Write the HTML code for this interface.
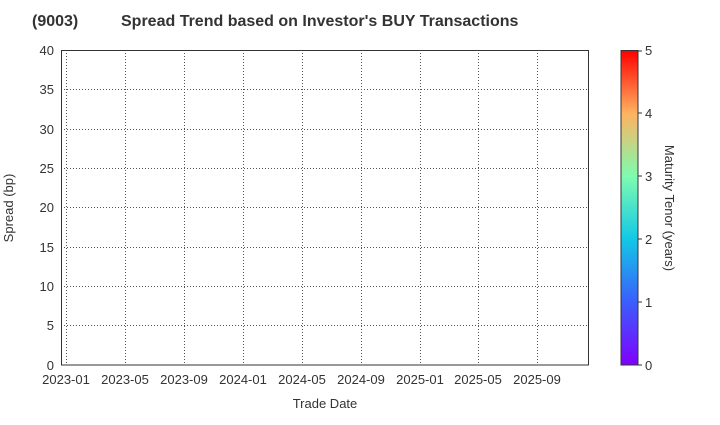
<!DOCTYPE html><html><head><style>body{margin:0;background:#fff}</style></head><body>
<svg width="720" height="420" xmlns="http://www.w3.org/2000/svg" font-family="Liberation Sans, sans-serif">
<defs><linearGradient id="g" x1="0" y1="1" x2="0" y2="0">
<stop offset="0" stop-color="#8000ff"/><stop offset="0.2" stop-color="#3a5efc"/><stop offset="0.4" stop-color="#12c8e6"/><stop offset="0.6" stop-color="#7efcb0"/><stop offset="0.8" stop-color="#ffb360"/><stop offset="1" stop-color="#ff0000"/></linearGradient></defs>
<text x="32" y="26" font-size="16" font-weight="bold" fill="#333">(9003)</text>
<text x="121" y="26" font-size="16" font-weight="bold" fill="#333">Spread Trend based on Investor's BUY Transactions</text>
<g stroke="#555" stroke-dasharray="1,2" stroke-width="1">
<line x1="61" x2="589" y1="325.5" y2="325.5"/><line x1="61" x2="589" y1="286.5" y2="286.5"/><line x1="61" x2="589" y1="247.5" y2="247.5"/><line x1="61" x2="589" y1="207.5" y2="207.5"/><line x1="61" x2="589" y1="168.5" y2="168.5"/><line x1="61" x2="589" y1="129.5" y2="129.5"/><line x1="61" x2="589" y1="89.5" y2="89.5"/>
<line y1="50" y2="365" x1="66.5" x2="66.5"/><line y1="50" y2="365" x1="125.5" x2="125.5"/><line y1="50" y2="365" x1="184.5" x2="184.5"/><line y1="50" y2="365" x1="243.5" x2="243.5"/><line y1="50" y2="365" x1="302.5" x2="302.5"/><line y1="50" y2="365" x1="361.5" x2="361.5"/><line y1="50" y2="365" x1="420.5" x2="420.5"/><line y1="50" y2="365" x1="478.5" x2="478.5"/><line y1="50" y2="365" x1="537.5" x2="537.5"/>
</g>
<rect x="61.5" y="50.5" width="527" height="314.5" fill="none" stroke="#333"/>
<g font-size="13" fill="#333" text-anchor="end">
<text x="54" y="370">0</text><text x="54" y="330">5</text><text x="54" y="291">10</text><text x="54" y="252">15</text><text x="54" y="212">20</text><text x="54" y="173">25</text><text x="54" y="134">30</text><text x="54" y="94">35</text><text x="54" y="55">40</text></g>
<g font-size="13" fill="#333" text-anchor="middle">
<text x="66" y="384">2023-01</text><text x="125" y="384">2023-05</text><text x="184" y="384">2023-09</text><text x="243" y="384">2024-01</text><text x="302" y="384">2024-05</text><text x="361" y="384">2024-09</text><text x="420" y="384">2025-01</text><text x="478" y="384">2025-05</text><text x="537" y="384">2025-09</text>
<text x="325" y="408">Trade Date</text></g>
<text transform="translate(13,208) rotate(-90)" font-size="13" fill="#333" text-anchor="middle">Spread (bp)</text>
<rect x="621" y="50.5" width="17" height="314.5" fill="url(#g)" stroke="#333"/>
<g stroke="#333"><line x1="638" x2="642" y1="365" y2="365"/><line x1="638" x2="642" y1="302" y2="302"/><line x1="638" x2="642" y1="239" y2="239"/><line x1="638" x2="642" y1="176" y2="176"/><line x1="638" x2="642" y1="113" y2="113"/><line x1="638" x2="642" y1="51" y2="51"/></g>
<g font-size="13" fill="#333"><text x="645" y="370">0</text><text x="645" y="307">1</text><text x="645" y="244">2</text><text x="645" y="181">3</text><text x="645" y="118">4</text><text x="645" y="55">5</text></g>
<text transform="translate(665,208) rotate(90)" font-size="13" fill="#333" text-anchor="middle">Maturity Tenor (years)</text>
</svg></body></html>
